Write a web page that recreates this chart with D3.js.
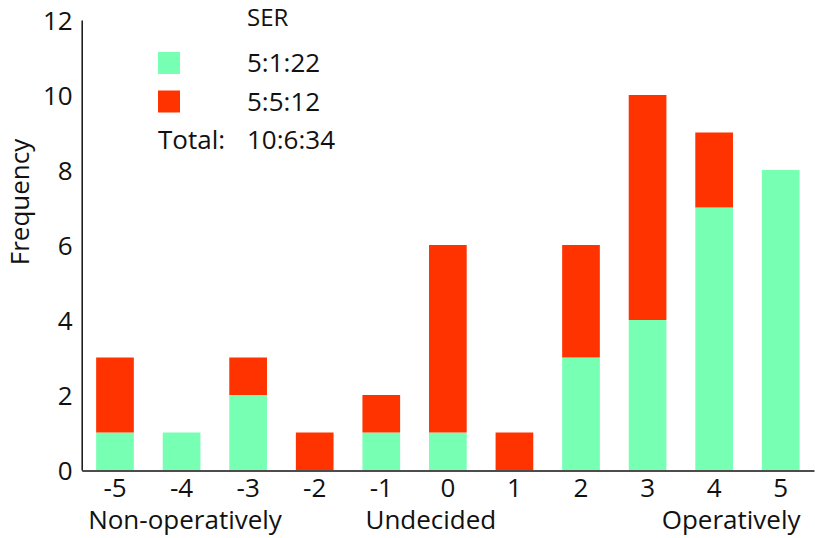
<!DOCTYPE html>
<html><head><meta charset="utf-8">
<script src="https://cdn.jsdelivr.net/npm/d3@7"></script>
<style>body{margin:0;background:#fff}svg{display:block}text{font-family:"Open Sans",sans-serif;fill:#111}</style>
</head><body><svg id="c" width="815" height="538"></svg>
<script>
const categories = ["-5","-4","-3","-2","-1","0","1","2","3","4","5"];
const greenValues = [1,1,2,0,1,1,0,3,4,7,8];
const redValues   = [2,0,1,1,1,5,1,3,6,2,0];
const yTicks = [0,2,4,6,8,10,12];
const legendTitle = "SER";
const legendLabels = ["5:1:22","5:5:12"];
const totalLabel = ["Total:","10:6:34"];
const groupLabels = [["Non-operatively","-5","start",-8],["Undecided","-1","start",3],["Operatively","5","end",1]];
const colors = ["#77ffb4","#ff3300"];
const FS = "26px";

const svg = d3.select("#c");
const x = d3.scaleBand().domain(categories).range([81.7, 814]).paddingInner(0.434).paddingOuter(0.217);
const y = d3.scaleLinear().domain([0,12]).range([470,20]);

const rows = categories.map((c,i)=>({cat:c, g:greenValues[i], r:redValues[i]}));
const stack = d3.stack().keys(["g","r"])(rows);
svg.append("g").selectAll("g").data(stack).join("g").attr("fill",(d,i)=>colors[i])
  .selectAll("rect").data(d=>d).join("rect")
  .attr("x",d=>x(d.data.cat)).attr("width",x.bandwidth())
  .attr("y",d=>y(d[1])).attr("height",d=>y(d[0])-y(d[1]));

// axes
const ya = svg.append("g").attr("transform","translate(81.7,0)")
  .call(d3.axisLeft(y).tickValues(yTicks).tickSize(0).tickPadding(9));
ya.select(".domain").attr("stroke","#111").attr("stroke-width",1.5);
ya.selectAll("text").style("font-size",FS).attr("dy","0.35em");

const xa = svg.append("g").attr("transform","translate(0,470.5)")
  .call(d3.axisBottom(x).tickSize(0).tickPadding(8));
xa.select(".domain").attr("stroke","#111").attr("stroke-width",1.5);
xa.selectAll("text").style("font-size",FS);

groupLabels.forEach(([t,c,a,off])=>{
  const xx = a==="start" ? x(c)+off : x(c)+x.bandwidth()+off;
  svg.append("text").attr("x",xx).attr("y",529).attr("text-anchor",a).style("font-size",FS).text(t);
});

svg.append("text").attr("transform","translate(29,202) rotate(-90)").attr("text-anchor","middle")
  .style("font-size","26px").text("Frequency");

// legend
svg.append("text").attr("x",247).attr("y",26).style("font-size","24px").text(legendTitle);
legendLabels.forEach((l,i)=>{
  const cy = 63 + i*38.5;
  svg.append("rect").attr("x",158).attr("y",cy-11).attr("width",22).attr("height",22).attr("fill",colors[i]);
  svg.append("text").attr("x",247).attr("y",cy).attr("dy","0.35em").style("font-size",FS).text(l);
});
svg.append("text").attr("x",158).attr("y",149).style("font-size",FS).text(totalLabel[0]);
svg.append("text").attr("x",247).attr("y",149).style("font-size",FS).text(totalLabel[1]);
</script></body></html>
